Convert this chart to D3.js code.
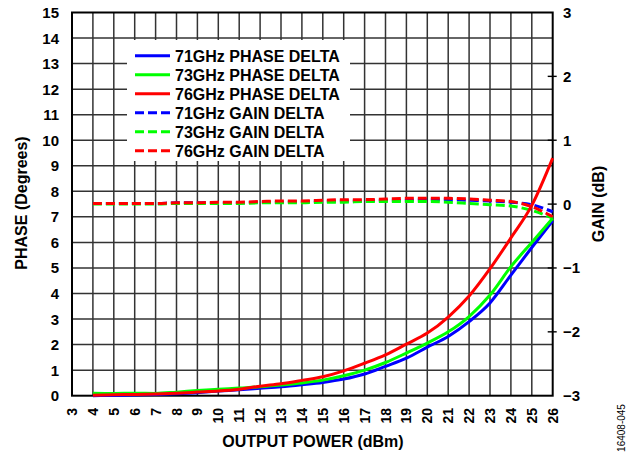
<!DOCTYPE html>
<html><head><meta charset="utf-8">
<script src="https://d3js.org/d3.v7.min.js"></script>
<style>body{margin:0;background:#fff}</style>
</head><body><svg id="c" width="641" height="456"></svg>
<script>
const power = [4,5,6,7,8,9,10,11,12,13,14,15,16,17,18,19,20,21,22,23,24,25,26];
const phase71 = [0.0,0.01,0.03,0.05,0.08,0.12,0.18,0.23,0.29,0.35,0.43,0.52,0.65,0.85,1.15,1.47,1.9,2.32,2.9,3.63,4.72,5.8,6.85];
const phase73 = [0.1,0.09,0.1,0.09,0.14,0.2,0.25,0.3,0.35,0.42,0.5,0.61,0.78,1.0,1.3,1.67,2.06,2.5,3.1,3.94,5.05,6.0,6.95];
const phase76 = [0.02,0.04,0.05,0.07,0.1,0.14,0.18,0.25,0.37,0.47,0.6,0.74,0.97,1.27,1.6,2.02,2.45,3.08,3.9,4.97,6.18,7.45,9.3];
const gain71 = [0.01,0.01,0.01,0.01,0.02,0.02,0.02,0.02,0.03,0.03,0.04,0.04,0.05,0.05,0.06,0.06,0.07,0.07,0.06,0.05,0.03,-0.01,-0.12];
const gain73 = [0.0,0.0,0.0,0.0,0.01,0.01,0.01,0.01,0.02,0.02,0.02,0.03,0.03,0.04,0.04,0.04,0.04,0.03,0.01,-0.01,-0.03,-0.1,-0.22];
const gain76 = [0.01,0.01,0.01,0.01,0.02,0.02,0.03,0.03,0.04,0.05,0.05,0.06,0.07,0.07,0.08,0.09,0.09,0.09,0.08,0.06,0.04,-0.04,-0.2];
const xTicks = d3.range(3,27);
const phaseTicks = d3.range(0,16);
const gainTicks = [-3,-2,-1,0,1,2,3];
const gainTickLabels = ["\u22123","\u22122","\u22121","0","1","2","3"];
const legendLabels = ["71GHz PHASE DELTA","73GHz PHASE DELTA","76GHz PHASE DELTA","71GHz GAIN DELTA","73GHz GAIN DELTA","76GHz GAIN DELTA"];
const colors = ["#0000ff","#00ff00","#ff0000"];

const svg = d3.select("#c");
const L=72, R=552.7, T=12.5, B=395.7;
const x = d3.scaleLinear().domain([3,26]).range([L,R]);
const y = d3.scaleLinear().domain([0,15]).range([B,T]);
const yg = d3.scaleLinear().domain([-3,3]).range([B,T]);
const font = "'Liberation Sans', Arial, sans-serif";

// grid
const g = svg.append("g");
g.selectAll(".vg").data(xTicks.slice(1,-1)).join("line")
  .attr("x1",d=>x(d)).attr("x2",d=>x(d)).attr("y1",T).attr("y2",B)
  .attr("stroke","#333").attr("stroke-width",1.5);
g.selectAll(".hg").data(phaseTicks.slice(1,-1)).join("line")
  .attr("x1",L).attr("x2",R).attr("y1",d=>y(d)).attr("y2",d=>y(d))
  .attr("stroke","#333").attr("stroke-width",1.5);

// legend box
svg.append("rect").attr("x",127).attr("y",40).attr("width",223).attr("height",121).attr("fill","#fff");

// border
svg.append("rect").attr("x",L).attr("y",T).attr("width",R-L).attr("height",B-T)
  .attr("fill","none").attr("stroke","#000").attr("stroke-width",2);

// right ticks
svg.selectAll(".rt").data(gainTicks.slice(1,-1)).join("line")
  .attr("x1",R-5).attr("x2",R+4).attr("y1",d=>yg(d)).attr("y2",d=>yg(d))
  .attr("stroke","#000").attr("stroke-width",1.4);

// left labels
svg.selectAll(".yl").data(phaseTicks).join("text")
  .attr("x",59).attr("y",d=>y(d)+5.5).attr("text-anchor","end")
  .attr("font-family",font).attr("font-weight","bold").attr("font-size",15)
  .text(d=>d);
// right labels
svg.selectAll(".gl").data(gainTicks).join("text")
  .attr("x",563).attr("y",d=>yg(d)+5.5).attr("text-anchor","start")
  .attr("font-family",font).attr("font-weight","bold").attr("font-size",15)
  .text((d,i)=>gainTickLabels[i]);
// x labels
svg.selectAll(".xl").data(xTicks).join("text")
  .attr("transform",d=>`translate(${x(d)+5},408) rotate(-90)`).attr("text-anchor","end")
  .attr("font-family",font).attr("font-weight","bold").attr("font-size",14)
  .text(d=>d);

// titles
svg.append("text").attr("x",313).attr("y",447).attr("text-anchor","middle")
  .attr("font-family",font).attr("font-weight","bold").attr("font-size",16)
  .text("OUTPUT POWER (dBm)");
svg.append("text").attr("transform","translate(27,203) rotate(-90)").attr("text-anchor","middle")
  .attr("font-family",font).attr("font-weight","bold").attr("font-size",16)
  .text("PHASE (Degrees)");
svg.append("text").attr("transform","translate(604,204) rotate(-90)").attr("text-anchor","middle")
  .attr("font-family",font).attr("font-weight","bold").attr("font-size",16)
  .text("GAIN (dB)");
svg.append("text").attr("transform","translate(625,428) rotate(-90)").attr("text-anchor","middle")
  .attr("font-family",font).attr("font-size",10)
  .text("16408-045");

// curves
const lineP = d3.line().x((d,i)=>x(power[i])).y(d=>y(d)).curve(d3.curveMonotoneX);
const lineG = d3.line().x((d,i)=>x(power[i])).y(d=>yg(d)).curve(d3.curveMonotoneX);
[gain71,gain73,gain76].forEach((s,i)=>{
  svg.append("path").attr("d",lineG(s)).attr("fill","none").attr("stroke",colors[i])
    .attr("stroke-width",3).attr("stroke-dasharray","9,4");
});
[phase71,phase73,phase76].forEach((s,i)=>{
  svg.append("path").attr("d",lineP(s)).attr("fill","none").attr("stroke",colors[i])
    .attr("stroke-width",3);
});

// legend
const lg = svg.append("g");
legendLabels.forEach((t,i)=>{
  const yy = 55.7 + i*19;
  lg.append("line").attr("x1",135).attr("x2",170).attr("y1",yy).attr("y2",yy)
    .attr("stroke",colors[i%3]).attr("stroke-width",3)
    .attr("stroke-dasharray", i<3?null:"9,4");
  lg.append("text").attr("x",175).attr("y",yy+6)
    .attr("font-family",font).attr("font-weight","bold").attr("font-size",16)
    .text(t);
});
</script></body></html>
